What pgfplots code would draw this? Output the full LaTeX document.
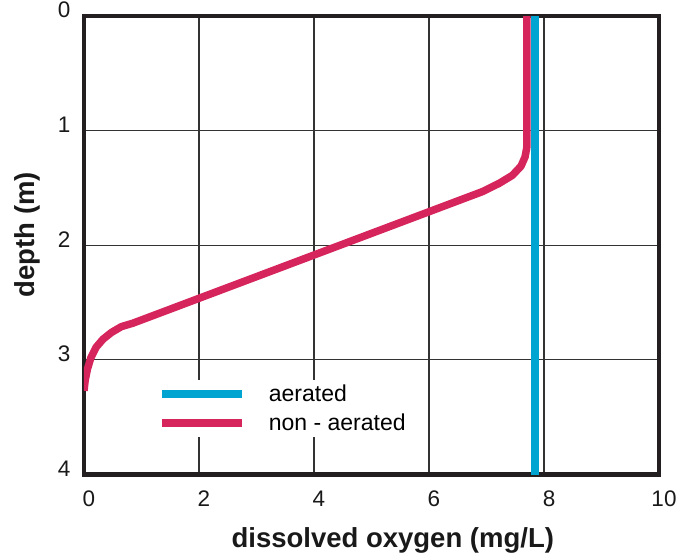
\documentclass[border=0pt]{standalone}
\usepackage{pgfplots}
\pgfplotsset{compat=1.18}
\usepackage{fontspec}
\setmainfont{Liberation Sans}
\definecolor{aerblue}{RGB}{0,164,208}
\definecolor{nonpink}{RGB}{214,36,92}
\definecolor{frameblk}{RGB}{35,31,32}
\begin{document}
\begin{tikzpicture}
\useasboundingbox (-84pt,-81.5pt) rectangle (608pt,474.5pt);
\begin{axis}[
    scale only axis,
    width=575pt, height=458.5pt,
    xmin=0, xmax=10, ymin=0, ymax=4,
    y dir=reverse,
    xtick={0,2,...,10}, ytick={0,1,2,3,4},
    grid=major,
    major grid style={line width=1.2pt, color=black!80},
    major tick length=0pt,
    axis line style={line width=4.5pt, color=frameblk},
    /pgf/number format/assume math mode=true,
    tick label style={font=\fontsize{22.5}{26}\selectfont, color=black!90},
    yticklabel style={anchor=east, xshift=-10pt, yshift=6pt},
    xticklabel style={anchor=north, xshift=5pt, yshift=-13pt},
    xlabel={dissolved oxygen (mg/L)},
    ylabel={depth (m)},
    label style={font=\bfseries\fontsize{27.5}{32}\selectfont, color=black!90},
    xlabel style={at={(axis description cs:0.537,-0.143)}, anchor=center},
    ylabel style={at={(axis description cs:-0.098,0.523)}, anchor=center, rotate=0},
    legend style={at={(axis description cs:0.122,0.207)}, anchor=north west,
        draw=none, fill=white, font=\fontsize{23}{27}\selectfont,
        inner sep=4pt, row sep=9pt},
    legend cell align=left,
    legend image code/.code={\draw[#1, line width=7.5pt] (0pt,0pt) -- (80pt,0pt);},
    legend style={nodes={inner xsep=0pt, inner ysep=1pt}},
    /tikz/every odd column/.append style={column sep=23pt},
]
\addplot[aerblue, line width=7.8pt] coordinates {(7.84,0) (7.84,4)};
\addlegendentry{aerated}
\addplot[nonpink, line width=7.5pt, line join=round] coordinates {
    (7.70,0) (7.70,1.06) (7.70,1.15) (7.67,1.23) (7.60,1.31) (7.45,1.39)
    (7.22,1.46) (6.94,1.53)
    (0.85,2.68) (0.65,2.71) (0.48,2.76) (0.33,2.82) (0.21,2.89) (0.12,2.98)
    (0.06,3.08) (0.02,3.18) (0.0,3.27)};
\addlegendentry{non - aerated}
\end{axis}
\end{tikzpicture}
\end{document}
